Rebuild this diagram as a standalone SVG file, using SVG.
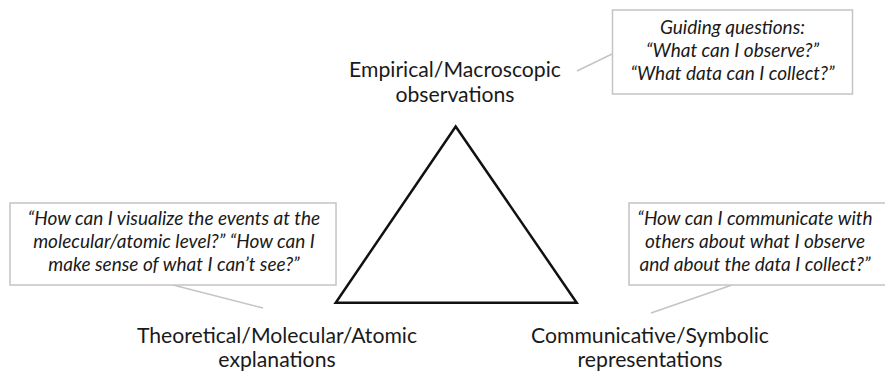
<svg xmlns="http://www.w3.org/2000/svg" width="885" height="372" viewBox="0 0 885 372">
<style>
.lbl{font-family:Lato,"Open Sans",sans-serif;font-size:21.2px;fill:#1a1a1a;text-anchor:middle}
.q{font-family:Lato,"Open Sans",sans-serif;font-style:italic;font-size:19px;fill:#1a1a1a;text-anchor:middle}
.box{fill:#fff;stroke:#c4c4c4;stroke-width:1.5}
.conn{stroke:#c4c4c4;stroke-width:1.5;fill:none}
</style>
<rect width="885" height="372" fill="#fff"/>
<g id="connectors">
<line class="conn" x1="577" y1="71" x2="612" y2="54"/>
<line class="conn" x1="173" y1="285" x2="263" y2="308"/>
<line class="conn" x1="732" y1="285" x2="651" y2="313"/>
</g>
<g id="triangle">
<polygon points="455.7,126.5 335.7,302.7 576.7,302.7" fill="none" stroke="#111" stroke-width="2.5" stroke-linejoin="miter"/>
</g>
<g id="empirical">
<text class="lbl" x="455" y="77">Empirical/Macroscopic</text>
<text class="lbl" x="455" y="102">observations</text>
</g>
<g id="theoretical">
<text class="lbl" x="277" y="343">Theoretical/Molecular/Atomic</text>
<text class="lbl" x="277" y="367">explanations</text>
</g>
<g id="communicative">
<text class="lbl" x="650" y="343">Communicative/Symbolic</text>
<text class="lbl" x="650" y="367">representations</text>
</g>
<g id="box-empirical">
<rect class="box" x="612.5" y="10" width="240" height="84"/>
<text class="q" x="732.5" y="34">Guiding questions:</text>
<text class="q" x="732.5" y="57">“What can I observe?”</text>
<text class="q" x="732.5" y="80">“What data can I collect?”</text>
</g>
<g id="box-theoretical">
<rect class="box" x="10" y="203" width="326" height="82"/>
<text class="q" x="174" y="225">“How can I visualize the events at the</text>
<text class="q" x="174" y="248">molecular/atomic level?” “How can I</text>
<text class="q" x="174" y="271">make sense of what I can’t see?”</text>
</g>
<g id="box-communicative">
<rect class="box" x="629" y="203" width="262" height="82"/>
<text class="q" x="755" y="225">“How can I communicate with</text>
<text class="q" x="755" y="248">others about what I observe</text>
<text class="q" x="755" y="271">and about the data I collect?”</text>
</g>
</svg>
